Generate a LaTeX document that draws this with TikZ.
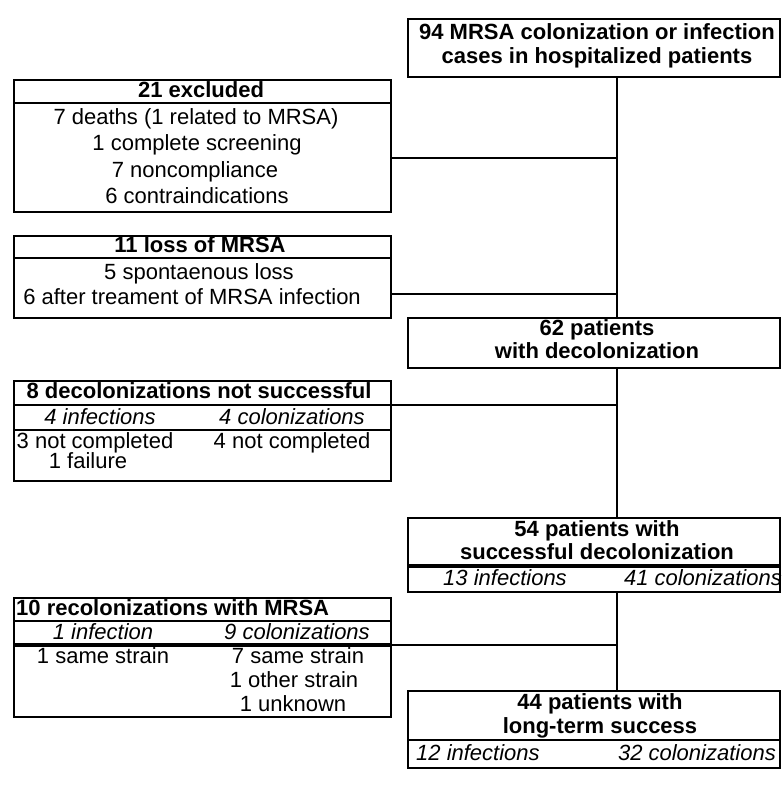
\documentclass[tikz,border=0pt]{standalone}
\usepackage{fontspec}
\setmainfont{Liberation Sans}
\newcommand\hdfont{\fontsize{22}{25}\selectfont\bfseries}
\newcommand\txfont{\fontsize{22}{25}\selectfont}
\newcommand\itfont{\fontsize{22}{25}\selectfont\itshape}
\tikzset{
  box/.style={draw, line width=2.8pt, inner sep=0pt, outer sep=0pt, anchor=north west},
  rule/.style={line width=2.4pt},
  thinrule/.style={line width=1.8pt},
  thickrule/.style={line width=3.4pt},
  conn/.style={line width=1.3pt},
  lbl/.style={inner sep=0pt, anchor=mid, yshift=-4pt},
  hd/.style={lbl, font=\hdfont},
  tx/.style={lbl, font=\txfont},
  it/.style={lbl, font=\itfont},
}
\begin{document}
\begin{tikzpicture}[x=1pt, y=-1pt]
\useasboundingbox (0,0) rectangle (782,786);
% boxes
\node[box, minimum width=372pt, minimum height=58pt] (T) at (408,19) {};
\node[box, minimum width=377pt, minimum height=132pt] (E) at (14,80) {};
\node[box, minimum width=377pt, minimum height=82pt] (L) at (14,236) {};
\node[box, minimum width=372pt, minimum height=50pt] (D) at (408,318) {};
\node[box, minimum width=377pt, minimum height=100pt] (N) at (14,381) {};
\node[box, minimum width=372pt, minimum height=74pt] (S) at (408,518) {};
\node[box, minimum width=377pt, minimum height=119pt] (R) at (14,598) {};
\node[box, minimum width=372pt, minimum height=77pt] (F) at (408,691) {};
% trunk
\coordinate (tx) at (617,0);
\draw[conn] (T.south -| tx) -- (D.north -| tx);
\draw[conn] (D.south -| tx) -- (S.north -| tx);
\draw[conn] (S.south -| tx) -- (F.north -| tx);
% side connectors
\coordinate (c1) at (617,158);
\coordinate (c2) at (617,294);
\coordinate (c3) at (617,405);
\coordinate (c4) at (617,645);
\draw[conn] (c1 -| E.east) -- (c1);
\draw[conn] (c2 -| L.east) -- (c2);
\draw[conn] (c3 -| N.east) -- (c3);
\draw[conn] (c4 -| R.east) -- (c4);
% top box
\node[hd] (t1) at (597,33) {94 MRSA colonization or infection};
\node[hd] (t2) at (597,57) {cases in hospitalized patients};
% 21 excluded
\draw[rule] (E.west |- 0,103) -- (E.east |- 0,103);
\node[hd] (e0) at (201,91) {21 excluded};
\node[tx] (e1) at (196,118) {7 deaths (1 related to MRSA)};
\node[tx] (e2) at (197,144) {1 complete screening};
\node[tx] (e3) at (195,171) {7 noncompliance};
\node[tx] (e4) at (197,197) {6 contraindications};
% 11 loss
\draw[rule] (L.west |- 0,258) -- (L.east |- 0,258);
\node[hd] (l0) at (200,246) {11 loss of MRSA};
\node[tx] (l1) at (199,273) {5 spontaenous loss};
\node[tx] (l2) at (192,298) {6 after treament of MRSA infection};
% 62
\node[hd] (d1) at (597,329) {62 patients};
\node[hd] (d2) at (597,352) {with decolonization};
% 8 decol
\draw[rule] (N.west |- 0,405) -- (N.east |- 0,405);
\draw[thinrule] (N.west |- 0,430) -- (N.east |- 0,430);
\node[hd] (n0) at (199,392) {8 decolonizations not successful};
\node[it] (n1) at (100,418) {4 infections};
\node[it] (n2) at (292,418) {4 colonizations};
\node[tx] (n3) at (95,442) {3 not completed};
\node[tx] (n4) at (88,462) {1 failure};
\node[tx] (n5) at (292,442) {4 not completed};
% 54
\draw[thickrule] (S.west |- 0,566) -- (S.east |- 0,566);
\node[hd] (s1) at (597,530) {54 patients with};
\node[hd] (s2) at (597,553) {successful decolonization};
\node[it] (s3) at (505,579) {13 infections};
\node[it, anchor=mid east] (s4) at (782,579) {41 colonizations};
% 10 recol
\draw[rule] (R.west |- 0,621) -- (R.east |- 0,621);
\draw[thickrule] (R.west |- 0,645) -- (R.east |- 0,645);
\node[hd, anchor=mid west] (r0) at (16,609) {10 recolonizations with MRSA};
\node[it] (r1) at (103,633) {1 infection};
\node[it] (r2) at (297,633) {9 colonizations};
\node[tx] (r3) at (103,657) {1 same strain};
\node[tx] (r4) at (298,657) {7 same strain};
\node[tx] (r5) at (294,681) {1 other strain};
\node[tx] (r6) at (293,705) {1 unknown};
% 44
\draw[rule] (F.west |- 0,740) -- (F.east |- 0,740);
\node[hd] (f1) at (600,703) {44 patients with};
\node[hd] (f2) at (600,727) {long-term success};
\node[it, anchor=mid west] (f3) at (416,754) {12 infections};
\node[it, anchor=mid east] (f4) at (776,754) {32 colonizations};
\end{tikzpicture}
\end{document}
